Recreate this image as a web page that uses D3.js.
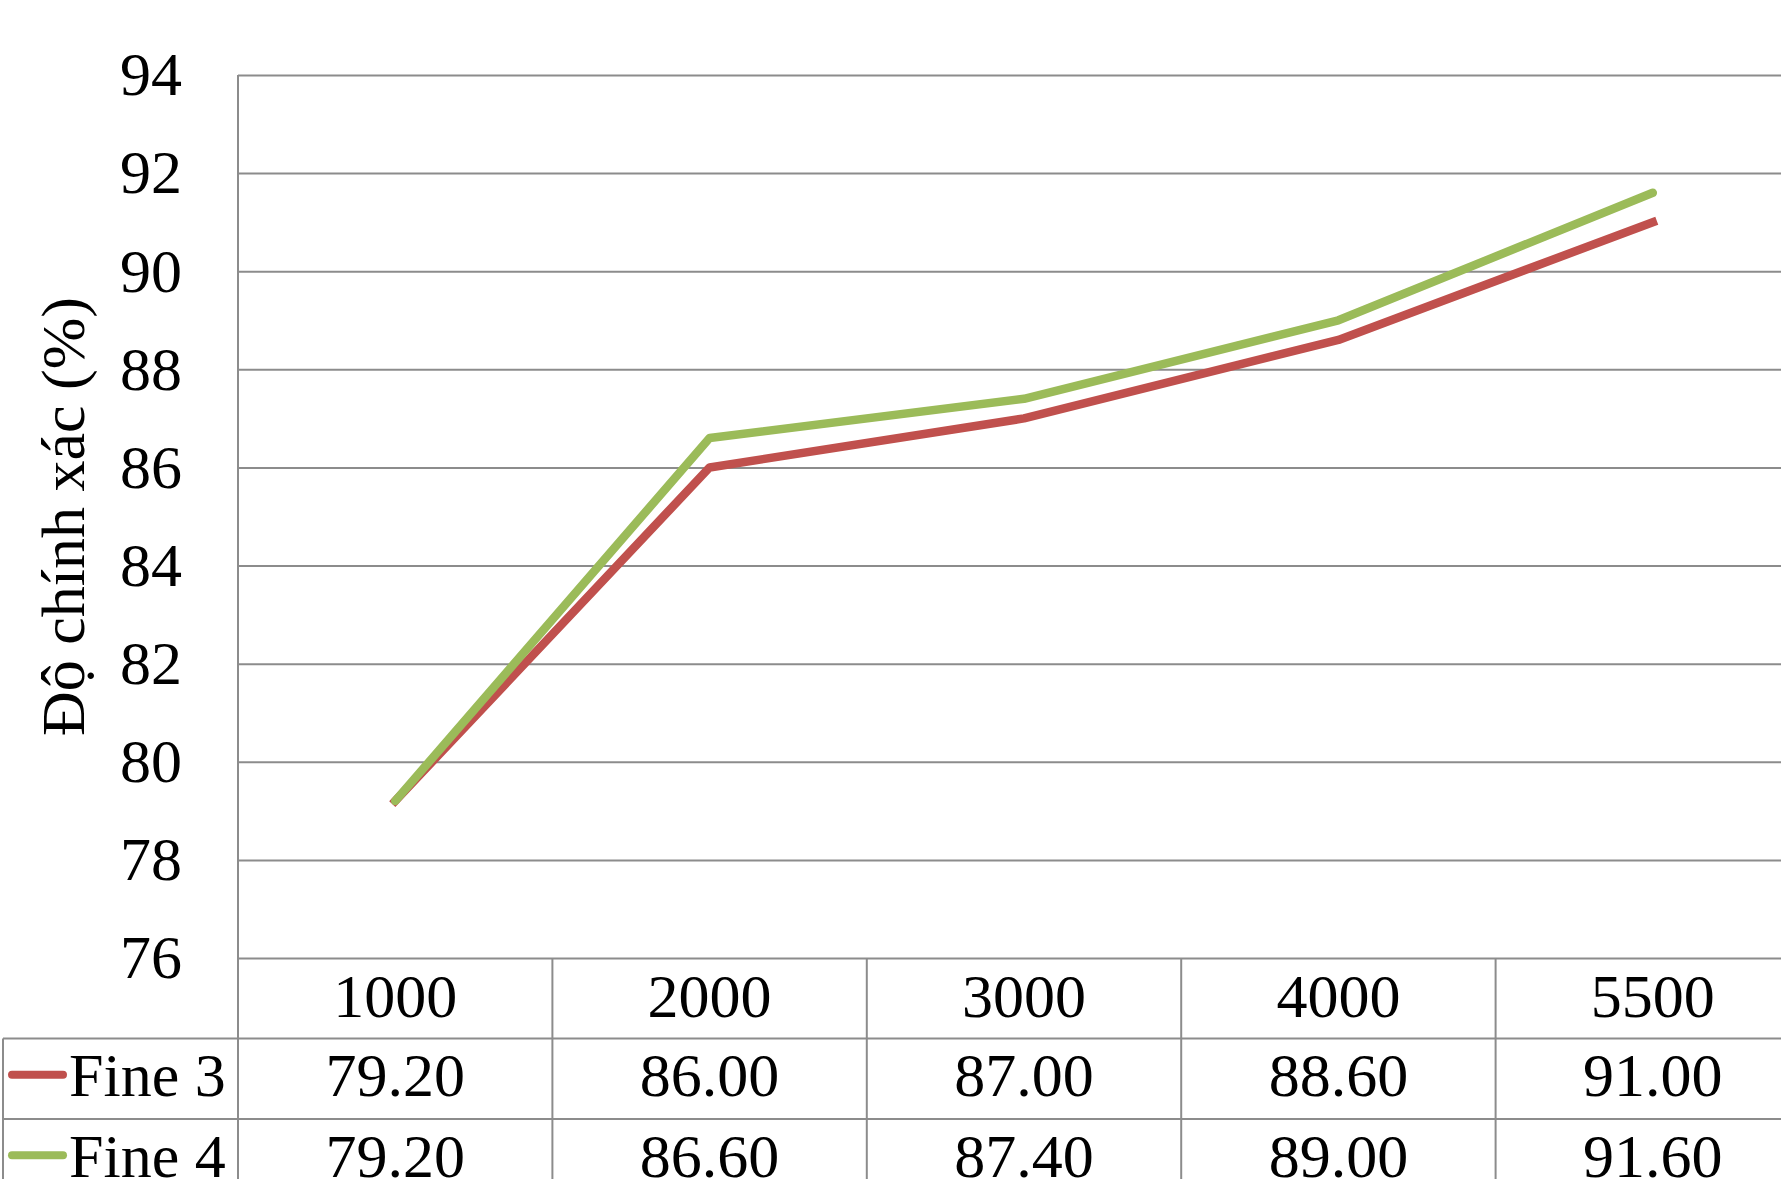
<!DOCTYPE html>
<html>
<head>
<meta charset="utf-8">
<script src="https://cdn.jsdelivr.net/npm/d3@7"></script>
<style>
  html, body { margin: 0; padding: 0; background: #fff; overflow: hidden; }
  svg { display: block; font-family: "Liberation Serif", "Times New Roman", serif; }
</style>
</head>
<body>
<svg id="chart" width="1781" height="1179"></svg>
<script>
// Training set sizes and accuracy (%) for each fine-tuning variant
const categories = ["1000", "2000", "3000", "4000", "5500"];
const fine3 = [79.20, 86.00, 87.00, 88.60, 91.00];
const fine4 = [79.20, 86.60, 87.40, 89.00, 91.60];
const seriesNames = ["Fine 3", "Fine 4"];
const yTicks = [76, 78, 80, 82, 84, 86, 88, 90, 92, 94];
const yTitle = "Độ chính xác (%)";

const series = [
  { name: seriesNames[0], values: fine3, color: "#C0504D", cap: "square" },
  { name: seriesNames[1], values: fine4, color: "#9BBB59", cap: "round" }
];

const svg = d3.select("#chart");
const W = 1781, H = 1179;
const plotLeft = 238, plotTop = 75, plotBottom = 958;
const colW = 314.4;
const rowH = 80.5;
const gridColor = "#8c8c8c";
const fontSize = 62;

const x = d3.scaleBand()
  .domain(categories)
  .range([plotLeft, plotLeft + colW * categories.length])
  .paddingInner(0).paddingOuter(0);

const y = d3.scaleLinear()
  .domain([d3.min(yTicks), d3.max(yTicks)])
  .range([plotBottom, plotTop]);

// Horizontal gridlines with tick labels
const yAxis = d3.axisLeft(y)
  .tickValues(yTicks)
  .tickSize(-(W - plotLeft + 50))
  .tickPadding(0)
  .tickFormat(d3.format("d"));

const gy = svg.append("g")
  .attr("transform", `translate(${plotLeft},0)`)
  .call(yAxis);
gy.select(".domain").remove();
gy.selectAll(".tick line")
  .attr("stroke", gridColor)
  .attr("stroke-width", 2);
gy.selectAll(".tick text")
  .attr("x", -56)
  .attr("dy", "0.32em")
  .attr("fill", "#000")
  .style("font-size", fontSize + "px")
  .style("font-family", "'Liberation Serif', 'Times New Roman', serif");

// Vertical axis line
svg.append("line")
  .attr("x1", plotLeft).attr("x2", plotLeft)
  .attr("y1", plotTop).attr("y2", H + 10)
  .attr("stroke", gridColor).attr("stroke-width", 2);

// Y axis title
svg.append("text")
  .attr("transform", `translate(${62},${(plotTop + plotBottom) / 2}) rotate(-90)`)
  .attr("text-anchor", "middle")
  .attr("dy", "0.35em")
  .style("font-size", fontSize + "px")
  .text(yTitle);

// Data table below the plot
const tableLeft = 3;
const rowTops = [plotBottom, plotBottom + rowH, plotBottom + 2 * rowH, plotBottom + 3 * rowH];
const table = svg.append("g");

// horizontal row separators
[rowTops[1], rowTops[2]].forEach(ry => {
  table.append("line")
    .attr("x1", tableLeft).attr("x2", W + 10)
    .attr("y1", ry).attr("y2", ry)
    .attr("stroke", gridColor).attr("stroke-width", 2);
});

// left border of the legend column
table.append("line")
  .attr("x1", tableLeft).attr("x2", tableLeft)
  .attr("y1", rowTops[1]).attr("y2", H + 10)
  .attr("stroke", gridColor).attr("stroke-width", 2);

// column separators
categories.slice(1).forEach(c => {
  table.append("line")
    .attr("x1", x(c)).attr("x2", x(c))
    .attr("y1", plotBottom).attr("y2", H + 10)
    .attr("stroke", gridColor).attr("stroke-width", 2);
});

// category header row
table.selectAll("text.cat")
  .data(categories)
  .join("text")
  .attr("class", "cat")
  .attr("x", d => x(d) + x.bandwidth() / 2)
  .attr("y", (rowTops[0] + rowTops[1]) / 2 - 3)
  .attr("dy", "0.35em")
  .attr("text-anchor", "middle")
  .style("font-size", fontSize + "px")
  .text(d => d);

// value rows with legend keys
series.forEach((s, i) => {
  const cy = (rowTops[i + 1] + rowTops[i + 2]) / 2 - 4;
  table.append("line")
    .attr("x1", 12).attr("x2", 63)
    .attr("y1", cy).attr("y2", cy)
    .attr("stroke", s.color).attr("stroke-width", 8)
    .attr("stroke-linecap", "round");
  table.append("text")
    .attr("x", 69).attr("y", cy)
    .attr("dy", "0.35em")
    .style("font-size", fontSize + "px")
    .text(s.name);
  table.selectAll(null)
    .data(s.values)
    .join("text")
    .attr("x", (d, j) => x(categories[j]) + x.bandwidth() / 2)
    .attr("y", cy)
    .attr("dy", "0.35em")
    .attr("text-anchor", "middle")
    .style("font-size", fontSize + "px")
    .text(d => d3.format(".2f")(d));
});

// Series lines
const line = d3.line()
  .x((d, j) => x(categories[j]) + x.bandwidth() / 2)
  .y(d => y(d));

svg.append("g").selectAll("path")
  .data(series)
  .join("path")
  .attr("d", d => line(d.values))
  .attr("fill", "none")
  .attr("stroke", d => d.color)
  .attr("stroke-width", 8.5)
  .attr("stroke-linejoin", "round")
  .attr("stroke-linecap", d => d.cap);
</script>
</body>
</html>
